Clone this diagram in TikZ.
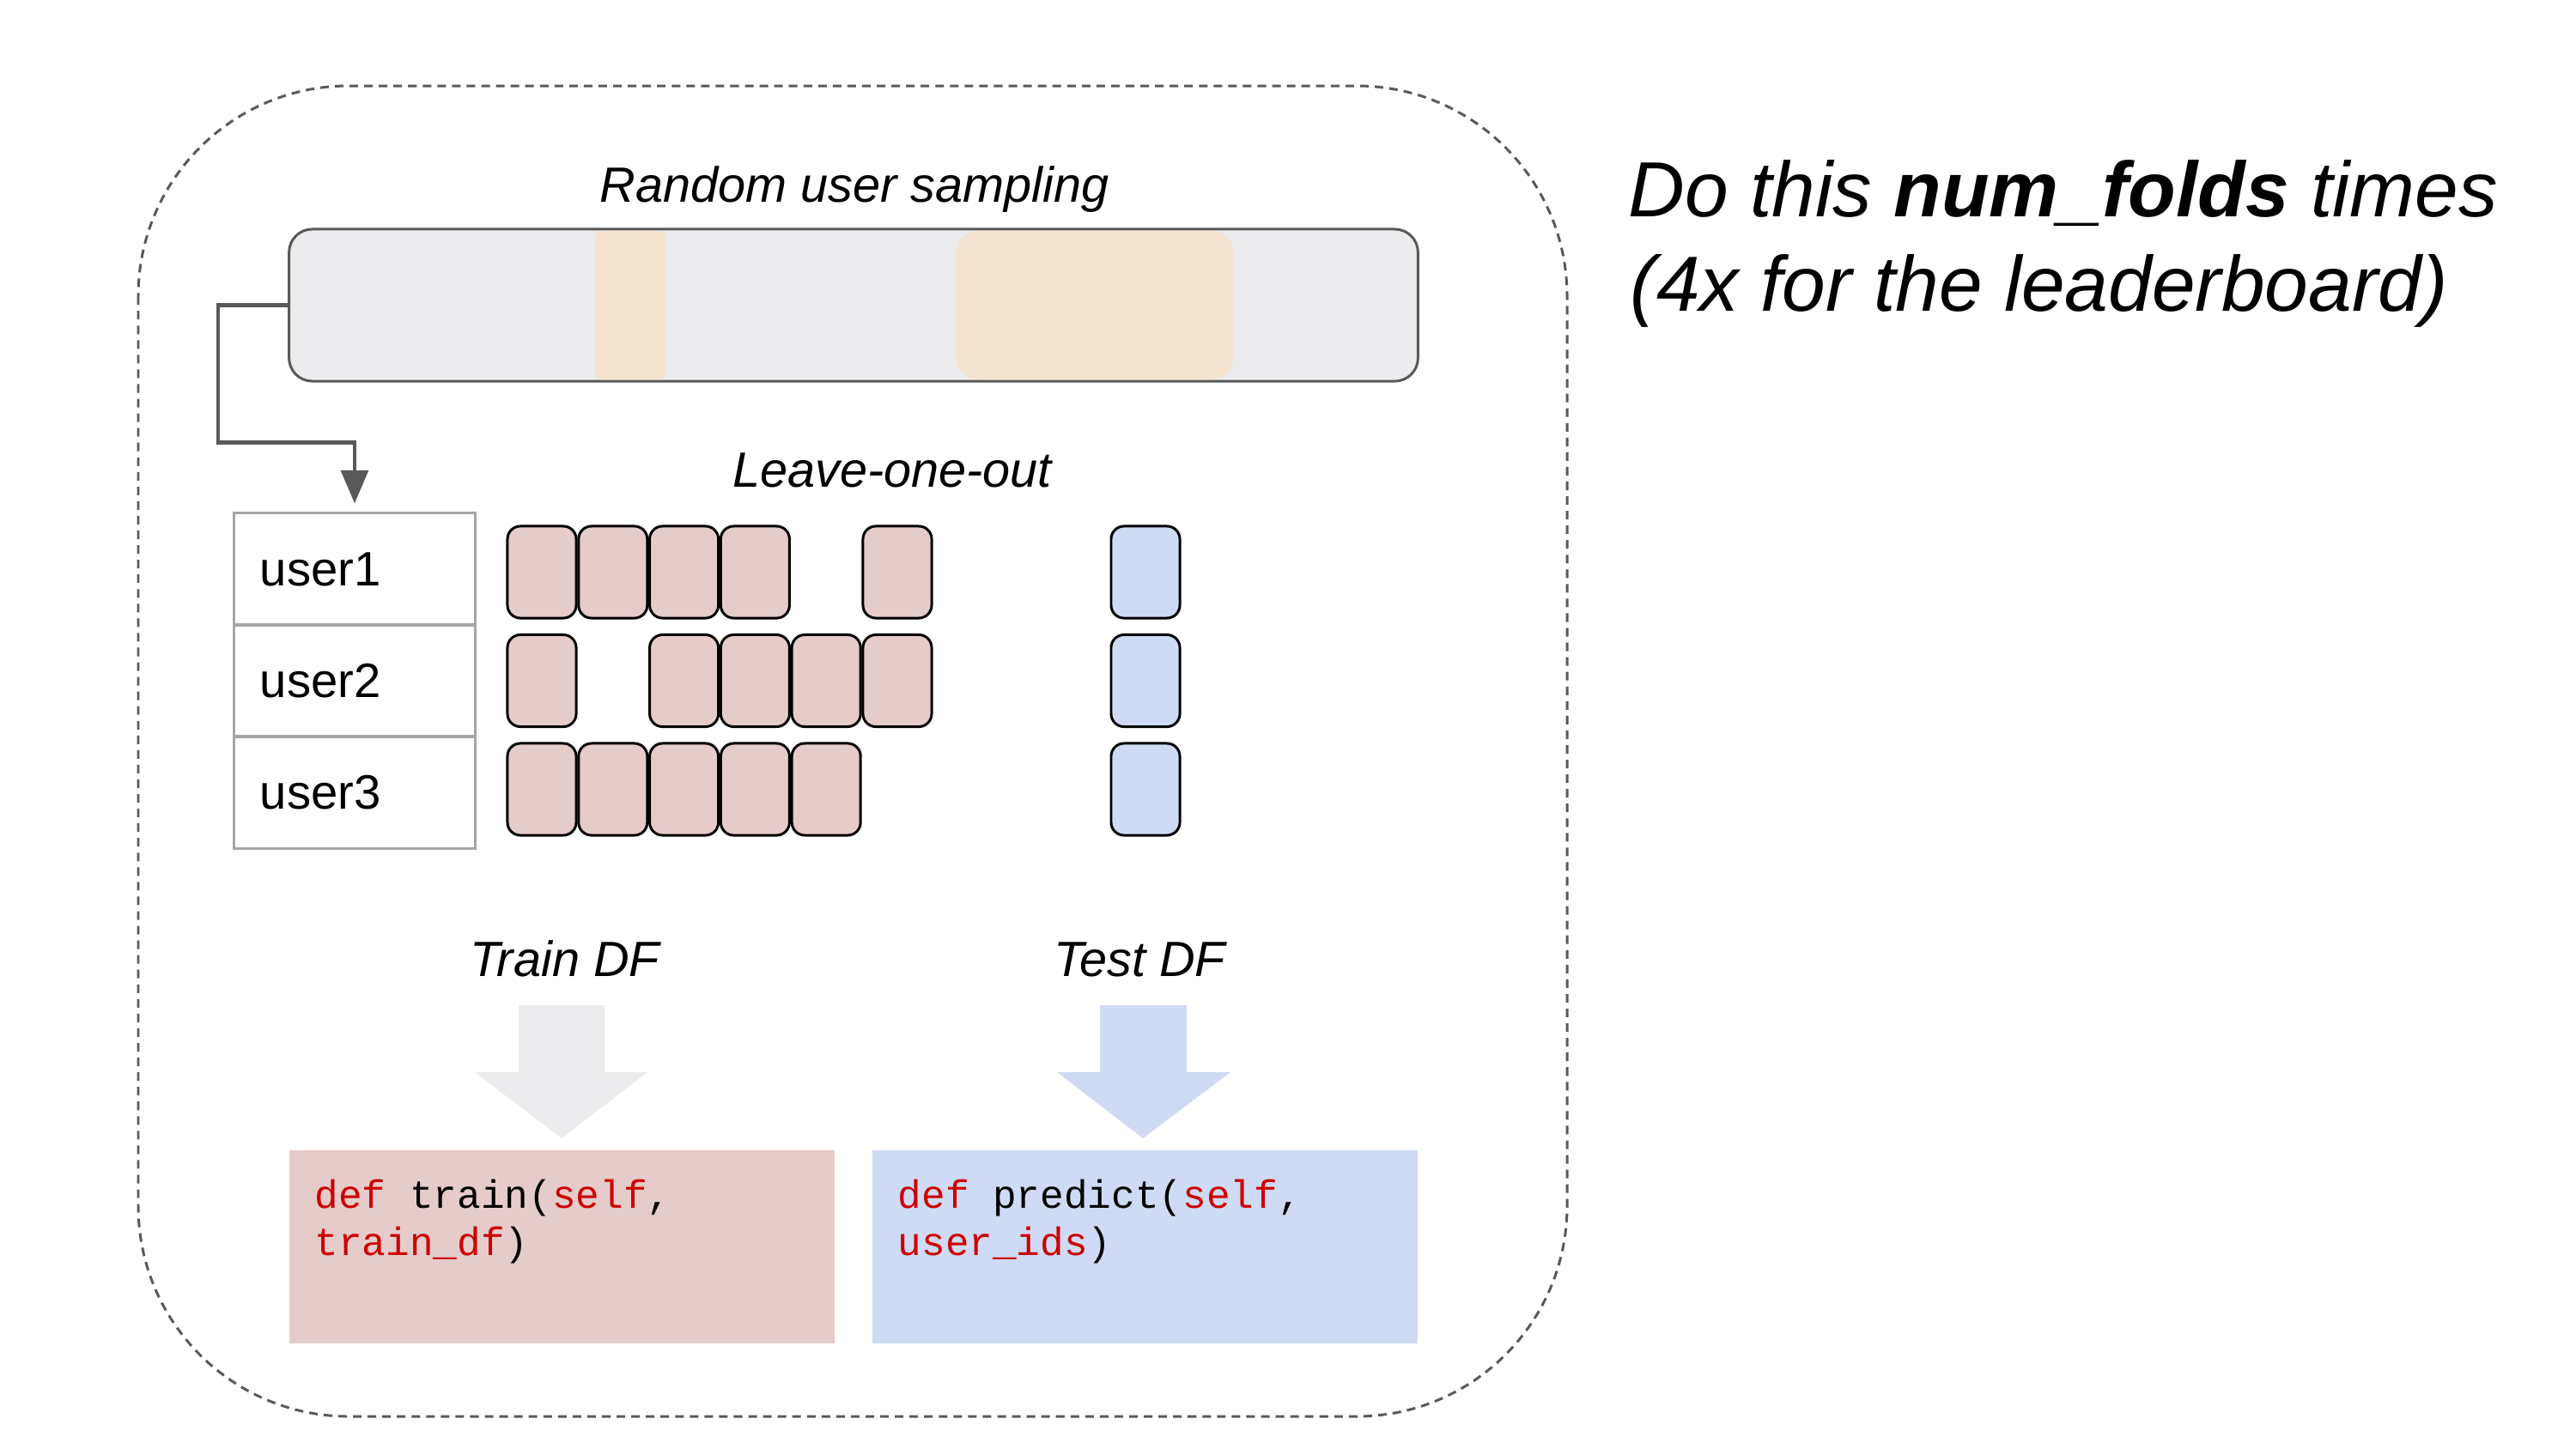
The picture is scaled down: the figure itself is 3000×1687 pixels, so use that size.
\documentclass[tikz,border=0pt]{standalone}
\usepackage{fontspec}
\setmainfont{Liberation Sans}
\newfontfamily\codefont{Liberation Mono}
\usetikzlibrary{arrows.meta,calc}
\definecolor{dashgray}{HTML}{595959}
\definecolor{barfill}{HTML}{ECECEE}
\definecolor{peach}{HTML}{F4E4D0}
\definecolor{pinkfill}{HTML}{E6CBCB}
\definecolor{bluefill}{HTML}{CFDAF5}
\definecolor{cellgray}{HTML}{A6A6A6}
\definecolor{codered}{HTML}{CC0000}
\tikzset{
  outerbox/.style={draw=dashgray, line width=0.85pt, dash pattern=on 2.85pt off 2pt, rounded corners=2.45cm},
  barbox/.style={draw=dashgray, fill=barfill, line width=0.85pt, rounded corners=0.27cm, minimum width=13.14cm, minimum height=1.77cm, inner sep=0pt},
  cell/.style={draw=cellgray, line width=0.85pt, minimum width=2.8cm, minimum height=1.3cm, text width=2.2cm, inner xsep=0.3cm, inner ysep=0pt, align=left, font=\fontsize{16}{19}\selectfont},
  ev/.style={draw=black, line width=0.85pt, fill=pinkfill, rounded corners=0.15cm, minimum width=0.8cm, minimum height=1.07cm, inner sep=0pt},
  tv/.style={ev, fill=bluefill},
  titletext/.style={font=\fontsize{16.4}{19}\selectfont\itshape, anchor=base, inner sep=0pt},
  notetext/.style={font=\fontsize{25.9}{31}\selectfont\itshape, anchor=base west, inner sep=0pt},
  codebox/.style={minimum width=6.35cm, minimum height=2.25cm, inner sep=0pt},
  codetext/.style={font=\codefont\fontsize{13.1}{15.6}\selectfont, anchor=base west, inner sep=0pt},
  conn/.style={draw=dashgray, line width=1.3pt, -{Triangle[width=9pt,length=11pt]}}
}
\begin{document}
\begin{tikzpicture}[x=0.01cm,y=-0.01cm]
\useasboundingbox (0,0) rectangle (3000,1687);
\fill[white] (0,0) rectangle (3000,1687);

% outer dashed frame
\draw[outerbox] (161,100) rectangle (1825,1650);

% random user sampling bar
\node[titletext] (rus) at (995,235) {Random user sampling};
\node[barbox] (bar) at (994,355.5) {};
\fill[peach, rounded corners=0.06cm] (693,269) rectangle (775,442);
\fill[peach, rounded corners=0.27cm] (1113,269) rectangle (1437,442);

% user table
\node[cell] (u1) at (413,663) {user1};
\node[cell] (u2) at (413,793) {user2};
\node[cell] (u3) at (413,923) {user3};

% connector from bar to table
\draw[conn, shorten >=2.85pt] (bar.west) -- ++(-81,0) |- ($(u1.north)+(0,-81)$) -- (u1.north);

\node[titletext] (loo) at (1039,567) {Leave-one-out};

% interaction boxes
\node[ev] (r1c1) at (631,666.5) {};
\node[ev] (r1c2) at (713.8,666.5) {};
\node[ev] (r1c3) at (796.6,666.5) {};
\node[ev] (r1c4) at (879.4,666.5) {};
\node[ev] (r1c6) at (1045,666.5) {};
\node[tv] (t1) at (1334,666.5) {};

\node[ev] (r2c1) at (631,793) {};
\node[ev] (r2c3) at (796.6,793) {};
\node[ev] (r2c4) at (879.4,793) {};
\node[ev] (r2c5) at (962.2,793) {};
\node[ev] (r2c6) at (1045,793) {};
\node[tv] (t2) at (1334,793) {};

\node[ev] (r3c1) at (631,919.5) {};
\node[ev] (r3c2) at (713.8,919.5) {};
\node[ev] (r3c3) at (796.6,919.5) {};
\node[ev] (r3c4) at (879.4,919.5) {};
\node[ev] (r3c5) at (962.2,919.5) {};
\node[tv] (t3) at (1334,919.5) {};

% Train / Test labels
\node[titletext] (trdf) at (658,1137) {Train DF};
\node[titletext] (tedf) at (1327,1137) {Test DF};

% block arrows
\fill[barfill] (604,1171) -- (704,1171) -- (704,1249) -- (754,1249) -- (654,1326) -- (553,1249) -- (604,1249) -- cycle;
\fill[bluefill] (1281,1171) -- (1382,1171) -- (1382,1249) -- (1433,1249) -- (1331,1326) -- (1231,1249) -- (1281,1249) -- cycle;

% code boxes
\node[codebox, fill=pinkfill] (trainbox) at (654.5,1452.5) {};
\node[codebox, fill=bluefill] (predbox) at (1333.5,1452.5) {};
\node[codetext] (c1a) at (366,1407) {\textcolor{codered}{def} train(\textcolor{codered}{self},};
\node[codetext] (c1b) at (366,1462) {\textcolor{codered}{train\_df})};
\node[codetext] (c2a) at (1045,1407) {\textcolor{codered}{def} predict(\textcolor{codered}{self},};
\node[codetext] (c2b) at (1045,1462) {\textcolor{codered}{user\_ids})};

% note on the right
\node[notetext] (note1) at (1896,252) {Do this \textbf{num\_folds} times};
\node[notetext] (note2) at (1898,362) {(4x for the leaderboard)};
\end{tikzpicture}
\end{document}
